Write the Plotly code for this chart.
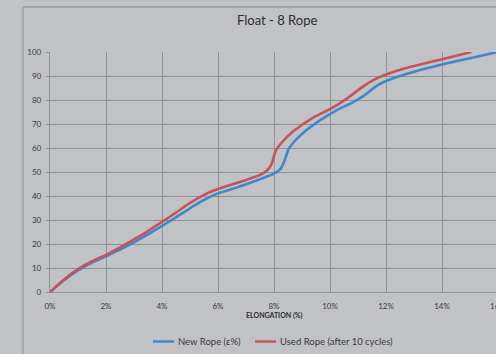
import plotly.graph_objects as go

# Elongation (%) vs. load (% of break) for the two rope samples
new_x = [0, 0.5, 1.0, 1.5, 2.0, 2.5, 3.0, 3.5, 4.0, 4.5, 5.0, 5.5, 6.0, 6.5, 7.0,
         7.5, 8.0, 8.25, 8.4, 8.52, 8.7, 9.05, 9.6, 10.2, 10.8, 11.2,
         11.65, 12.0, 12.5, 13.0, 14.0, 15.0, 16.0]
new_y = [0, 4.9, 9.0, 12.3, 14.9, 17.7, 20.7, 24.0, 27.5, 31.1, 34.9, 38.4, 41.1, 42.9, 44.9,
         47.0, 49.3, 51.5, 55.5, 59.5, 62.4, 66.4, 71.2, 75.5, 78.9, 81.7,
         85.8, 87.9, 90.0, 91.8, 94.8, 97.4, 100]

used_x = [0, 0.5, 1.0, 1.5, 2.0, 2.5, 3.0, 3.5, 4.0, 4.5, 5.0, 5.5, 6.0, 6.5, 7.0,
          7.5, 7.75, 7.92, 8.05, 8.3, 8.7, 9.4, 10.0, 10.6, 11.2, 11.65, 12.03,
          12.5, 13.0, 14.0, 15.05]
used_y = [0, 5.2, 9.5, 12.8, 15.5, 18.6, 21.9, 25.4, 29.2, 33.1, 37.1, 40.5, 42.9, 44.8, 46.7,
          48.8, 50.6, 53.5, 58.5, 62.6, 67.1, 72.7, 76.2, 80.6, 85.8, 88.9, 90.7,
          92.6, 94.2, 97.0, 100]

series_names = ["New Rope (ε%)", "Used Rope (after 10 cycles)"]
series_colors = ["#3F87CB", "#C4535A"]

x_ticks = [0, 2, 4, 6, 8, 10, 12, 14, 16]
x_tick_text = ["0%", "2%", "4%", "6%", "8%", "10%", "12%", "14%", "16%"]
y_ticks = [0, 10, 20, 30, 40, 50, 60, 70, 80, 90, 100]

BG = "#C1C2C6"
GRID = "#8D9494"
TXT = "#3A3A3A"
FONT = "Lato"

W, H = 496, 354
L, R, T, B = 50, 0, 52, 62
PW = W - L - R
PH = H - T - B
PX_PER_PCT = 28.0  # 2% per 56 px


def px_x(px):
    return (px - L) / PW


def px_y(py):
    return (H - B - py) / PH


fig = go.Figure()
for xs, ys, name, color in [(new_x, new_y, series_names[0], series_colors[0]),
                            (used_x, used_y, series_names[1], series_colors[1])]:
    fig.add_trace(go.Scatter(
        x=xs, y=ys, name=name, mode="lines",
        line=dict(color=color, width=2.6, shape="spline", smoothing=0.5),
        showlegend=False,
    ))

fig.update_layout(
    width=W, height=H,
    margin=dict(l=L, r=R, t=T, b=B, pad=0),
    paper_bgcolor=BG, plot_bgcolor=BG,
    font=dict(family=FONT, color=TXT),
    xaxis=dict(
        range=[0, PW / PX_PER_PCT], tickvals=x_ticks, ticktext=x_tick_text,
        showgrid=True, gridcolor=GRID, gridwidth=1.3,
        showline=True, linecolor=GRID, linewidth=1.3, zeroline=False,
        ticks="", tickfont=dict(size=8, color=TXT, family=FONT),
        ticklabelstandoff=6,
    ),
    yaxis=dict(
        range=[0, 100], tickvals=y_ticks,
        showgrid=True, gridcolor=GRID, gridwidth=1.3,
        showline=True, linecolor=GRID, linewidth=1.3, zeroline=False,
        ticks="outside", ticklen=3, tickcolor=GRID, tickwidth=1.3,
        tickfont=dict(size=8, color=TXT, family=FONT),
        ticklabelstandoff=3,
    ),
)

# Outer chart frame (left and top edges)
fig.add_shape(type="line", xref="paper", yref="paper",
              x0=px_x(23), x1=px_x(23), y0=px_y(7), y1=px_y(H + 2),
              line=dict(color="#959B9B", width=1.3))
fig.add_shape(type="line", xref="paper", yref="paper",
              x0=px_x(23), x1=px_x(W + 2), y0=px_y(7), y1=px_y(7),
              line=dict(color="#959B9B", width=1.3))

# Title
fig.add_annotation(text="Float - 8 Rope", xref="paper", yref="paper",
                   x=px_x(277), y=px_y(20), showarrow=False,
                   xanchor="center", yanchor="middle",
                   font=dict(size=13, color="#2E2E2E", family=FONT))

# 16% label sits at the clipped right edge of the plot area
fig.add_annotation(text=x_tick_text[-1], xref="paper", yref="paper",
                   x=px_x(16 * PX_PER_PCT + L), y=px_y(306), showarrow=False,
                   xanchor="center", yanchor="middle",
                   font=dict(size=8, color=TXT, family=FONT))

# X axis title
fig.add_annotation(text="<b>ELONGATION (%)</b>", xref="paper", yref="paper",
                   x=px_x(274), y=px_y(315), showarrow=False,
                   xanchor="center", yanchor="middle",
                   font=dict(size=7, color="#2E2E2E", family=FONT))

# Legend
legend_items = [(153, 174, 176), (255, 276, 278)]
for (lx0, lx1, tx), name, color in zip(legend_items, series_names, series_colors):
    fig.add_shape(type="line", xref="paper", yref="paper",
                  x0=px_x(lx0), x1=px_x(lx1), y0=px_y(341.5), y1=px_y(341.5),
                  line=dict(color=color, width=2.4))
    fig.add_annotation(text=name, xref="paper", yref="paper",
                       x=px_x(tx), y=px_y(341.5), showarrow=False,
                       xanchor="left", yanchor="middle",
                       font=dict(size=9.5, color=TXT, family=FONT))

fig.write_html("out.html")
